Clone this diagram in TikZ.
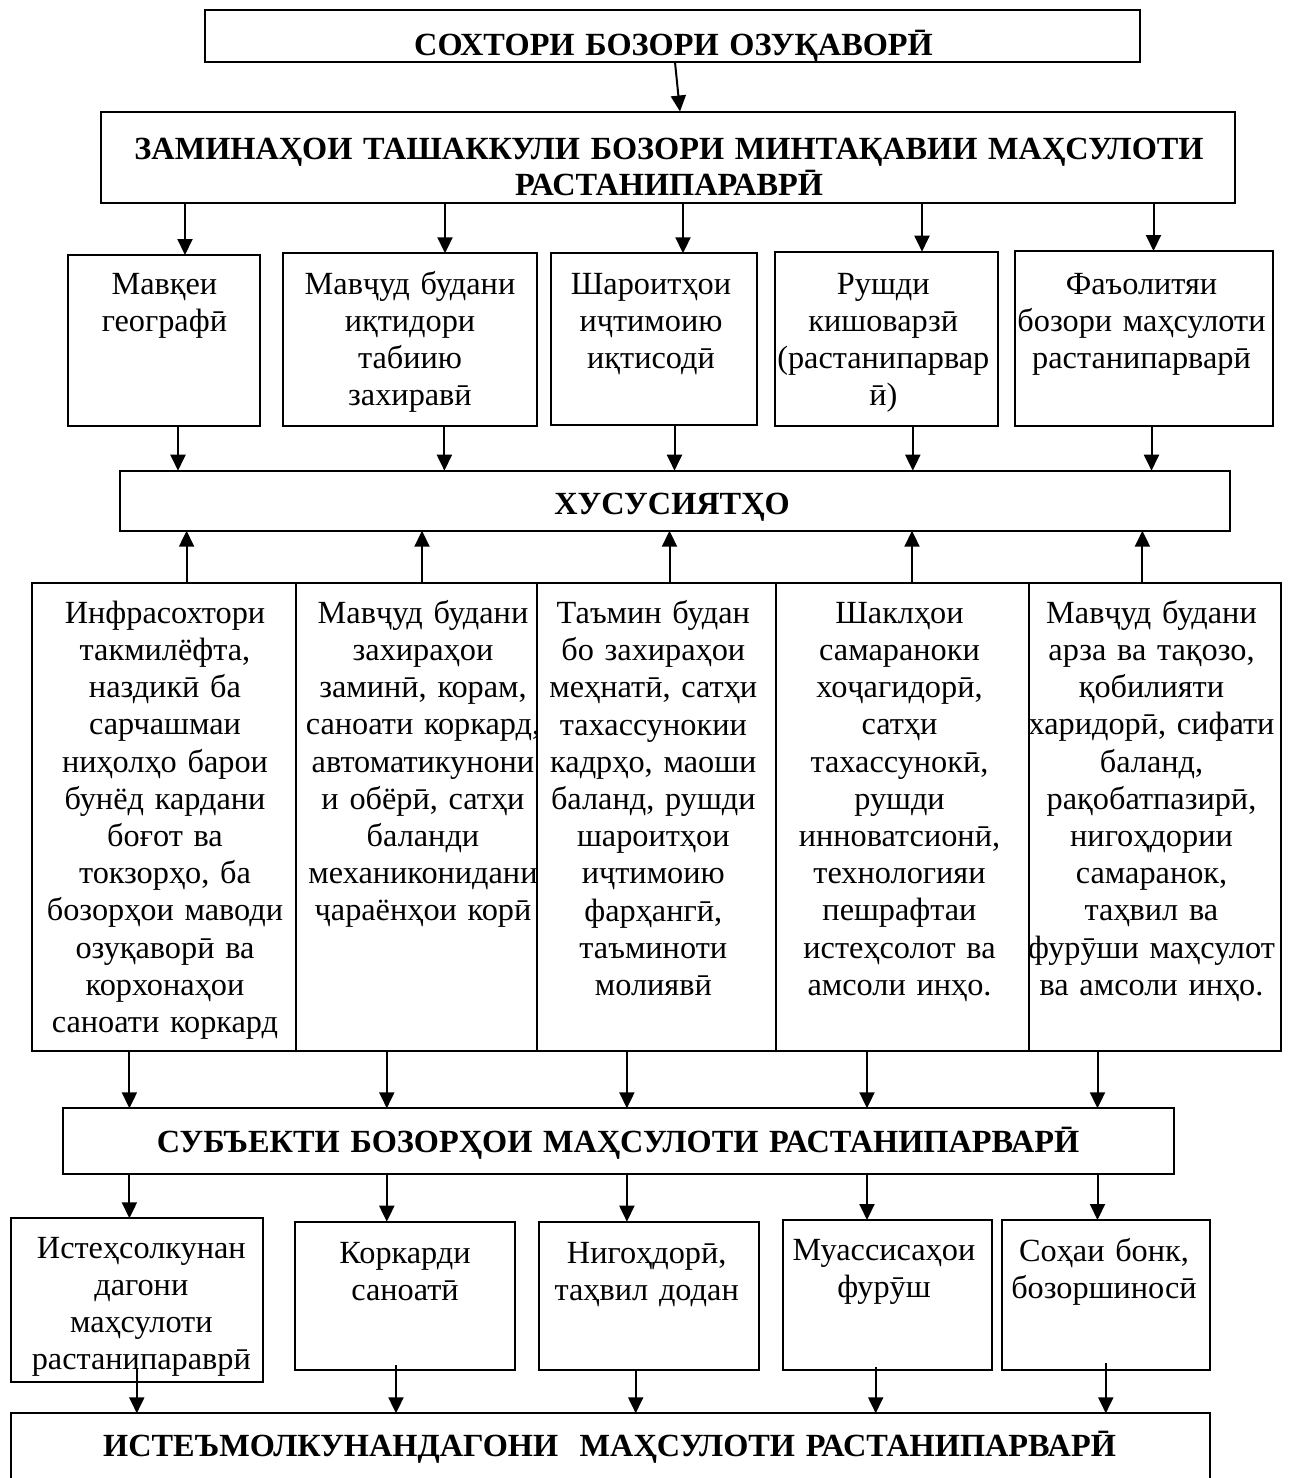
\documentclass[tikz,border=0pt]{standalone}
\usepackage{fontspec}
\setmainfont{Liberation Serif}
\usetikzlibrary{arrows.meta,calc}
\newcommand\mkbox[5]{\node[bx, minimum width={(#4-#2)*1pt}, minimum height={(#5-#3)*1pt}] (#1) at (#2,#3) {};}
\begin{document}
\begin{tikzpicture}[x=1pt,y=-1pt,
  bx/.style={draw, line width=2pt, anchor=north west, inner sep=0pt, outer sep=0pt},
  txt/.style={font=\fontsize{32.3}{37.2}\selectfont, align=center, inner sep=0pt, anchor=base, text width=320pt},
  ttl/.style={font=\bfseries\fontsize{32.3}{36}\selectfont, align=center, inner sep=0pt, anchor=base, text width=1200pt},
  arr/.style={line width=2pt, -{Triangle[width=15pt,length=16pt]}}]
\useasboundingbox (0,0) rectangle (1291,1478);
\fill[white] (0,0) rectangle (1291,1478);
\clip (0,0) rectangle (1291,1478);

% boxes
\mkbox{top}{204.7}{10.3}{1140.3}{62.3}
\mkbox{sec}{101}{111.5}{1235}{202.7}
\mkbox{f1}{68.4}{255}{260.4}{425.7}
\mkbox{f2}{282.8}{253.3}{537.3}{425.7}
\mkbox{f3}{551}{253.3}{756.5}{425.3}
\mkbox{f4}{775}{251.7}{997.9}{425.7}
\mkbox{f5}{1014.9}{251}{1273.1}{425.7}
\mkbox{hus}{120.2}{470.7}{1229.6}{530.7}
\mkbox{c1}{32.3}{583.3}{295.6}{1051}
\mkbox{c2}{295.6}{583.3}{537.1}{1051}
\mkbox{c3}{537.1}{583.3}{775.7}{1051}
\mkbox{c4}{775.7}{583.3}{1029}{1051}
\mkbox{c5}{1029}{583.3}{1281.4}{1051}
\mkbox{sub}{63}{1108.3}{1173.5}{1174.3}
\mkbox{e1}{11.2}{1218.3}{263.3}{1381.7}
\mkbox{e2}{295.2}{1221.7}{514.9}{1370}
\mkbox{e3}{539.3}{1221.7}{759.3}{1370}
\mkbox{e4}{782.7}{1220}{992.3}{1370}
\mkbox{e5}{1002}{1220}{1210}{1370}
\mkbox{fin}{11.2}{1413.3}{1210}{1520}

% titles
\node[ttl] (ttop) at (673.5,55) {СОХТОРИ БОЗОРИ ОЗУҚАВОРӢ};
\node[ttl] (tsec) at (669,159) {ЗАМИНАҲОИ ТАШАККУЛИ БОЗОРИ МИНТАҚАВИИ МАҲСУЛОТИ\\РАСТАНИПАРАВРӢ};
\node[ttl] (thus) at (672,514) {ХУСУСИЯТҲО};
\node[ttl] (tsub) at (618,1152) {СУБЪЕКТИ БОЗОРҲОИ МАҲСУЛОТИ РАСТАНИПАРВАРӢ};
\node[ttl] (tfin) at (609.5,1456) {ИСТЕЪМОЛКУНАНДАГОНИ\ \ МАҲСУЛОТИ РАСТАНИПАРВАРӢ};

% factor texts
\node[txt] (tf1) at (164.4,294) {Мавқеи\\географӣ};
\node[txt] (tf2) at (410,294) {Мавҷуд будани\\иқтидори\\табиию\\захиравӣ};
\node[txt] (tf3) at (651,294) {Шароитҳои\\иҷтимоию\\иқтисодӣ};
\node[txt] (tf4) at (883.3,294) {Рушди\\кишоварзӣ\\(растанипарвар\\ӣ)};
\node[txt] (tf5) at (1141.5,294) {Фаъолитяи\\бозори маҳсулоти\\растанипарварӣ};

% column texts
\node[txt] (tc1) at (165,623.3) {Инфрасохтори\\такмилёфта,\\наздикӣ ба\\сарчашмаи\\ниҳолҳо барои\\бунёд кардани\\боғот ва\\токзорҳо, ба\\бозорҳои маводи\\озуқаворӣ ва\\корхонаҳои\\саноати коркард};
\node[txt] (tc2) at (423,623.3) {Мавҷуд будани\\захираҳои\\заминӣ, корам,\\саноати коркард,\\автоматикунони\\и обёрӣ, сатҳи\\баланди\\механиконидани\\ҷараёнҳои корӣ};
\node[txt] (tc3) at (653.3,623.5) {Таъмин будан\\бо захираҳои\\меҳнатӣ, сатҳи\\тахассунокии\\кадрҳо, маоши\\баланд, рушди\\шароитҳои\\иҷтимоию\\фарҳангӣ,\\таъминоти\\молиявӣ};
\node[txt] (tc4) at (899.5,623.3) {Шаклҳои\\самараноки\\хоҷагидорӣ,\\сатҳи\\тахассунокӣ,\\рушди\\инноватсионӣ,\\технологияи\\пешрафтаи\\истеҳсолот ва\\амсоли инҳо.};
\node[txt] (tc5) at (1151.5,623.3) {Мавҷуд будани\\арза ва тақозо,\\қобилияти\\харидорӣ, сифати\\баланд,\\рақобатпазирӣ,\\нигоҳдории\\самаранок,\\таҳвил ва\\фурӯши маҳсулот\\ва амсоли инҳо.};

% subject texts
\node[txt] (te1) at (141.3,1258.3) {Истеҳсолкунан\\дагони\\маҳсулоти\\растанипараврӣ};
\node[txt] (te2) at (405,1263.3) {Коркарди\\саноатӣ};
\node[txt] (te3) at (646.7,1263.3) {Нигоҳдорӣ,\\таҳвил додан};
\node[txt] (te4) at (884,1260.5) {Муассисаҳои\\фурӯш};
\node[txt] (te5) at (1104,1261.7) {Соҳаи бонк,\\бозоршиносӣ};

% arrow x positions
\foreach \n/\x in {xa1/185,xa2/445,xa3/683,xa4/922,xa5/1153.5,
                   xb1/178,xb2/444.4,xb3/674.5,xb4/912.8,xb5/1151.5,
                   xc1/186.6,xc2/422,xc3/669.5,xc4/912,xc5/1142.4,
                   xd1/129.4,xd2/386.8,xd3/626.9,xd4/867,xd5/1097.5,
                   xf1/136.8,xf2/396,xf3/635.7,xf4/875.7,xf5/1105.8}
  \coordinate (\n) at (\x,0);

% connectors
\draw[arr] ($(top.south)+(2.5,0)$) -- ($(sec.north)+(12,0)$);
\foreach \i in {1,...,5} {
  \draw[arr] (sec.south -| xa\i) -- (f\i.north -| xa\i);
  \draw[arr] (f\i.south -| xb\i) -- (hus.north -| xb\i);
  \draw[arr] (c\i.north -| xc\i) -- (hus.south -| xc\i);
  \draw[arr] (c\i.south -| xd\i) -- (sub.north -| xd\i);
  \draw[arr] (sub.south -| xd\i) -- (e\i.north -| xd\i);
}
\foreach \i/\s in {1/13.7,2/5,3/0,4/3.3,5/7}
  \draw[arr] ($(e\i.south -| xf\i)+(0,-\s)$) -- (fin.north -| xf\i);
\end{tikzpicture}
\end{document}
